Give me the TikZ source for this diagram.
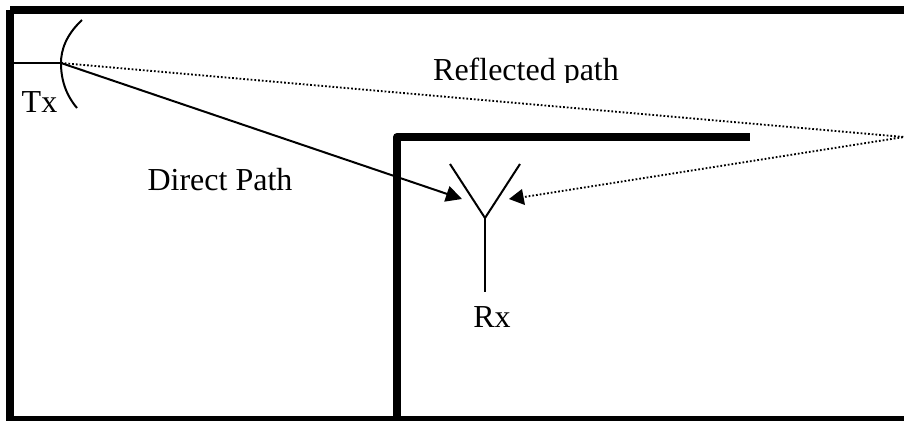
\documentclass[tikz,border=0pt]{standalone}
\usepackage{fontspec}
\setmainfont{Liberation Serif}
\usetikzlibrary{arrows.meta}
\tikzset{
  wall/.style={draw=black, line width=6pt},
  antenna/.style={draw=black, line width=1.5pt},
  direct/.style={draw=black, line width=1.5pt, -{Triangle[length=12pt, width=12pt]}},
  reflected/.style={draw=black, line width=1.4pt, dash pattern=on 1.3pt off 1.5pt},
  caption/.style={font=\fontsize{24}{28}\selectfont, text=black, inner sep=0pt, anchor=base}
}

\begin{document}
\begin{tikzpicture}[x=0.75pt, y=-0.75pt]
  \useasboundingbox (0,0) rectangle (904,421);
  % Outer walls
  \draw[wall] (10,10) -- (904,10);
  \draw[wall] (10,10) -- (10,420) -- (904,420);
  % Inner wall
  \draw[wall, line join=round] (397,420) -- (397,137) -- (750,137);
  % Tx dish
  \coordinate (txfeed) at (61,63);
  \coordinate (txwall) at (13,63);
  \draw[antenna] (txwall) -- (txfeed);
  \draw[antenna] (82,20) .. controls (66,35) and (61,50) .. (txfeed) .. controls (61,80) and (66,95) .. (77,108);
  % Rx antenna
  \coordinate (rxapex) at (485,218);
  \coordinate (rxbase) at (485,292);
  \draw[antenna] (450,164) -- (rxapex) -- (520,164);
  \draw[antenna] (rxapex) -- (rxbase);
  % Paths
  \coordinate (bounce) at (904,137);
  \coordinate (rxleft) at (462,199);
  \coordinate (rxright) at (509,199);
  \coordinate (rxrightbase) at (524,197);
  \draw[direct] (txfeed) -- (rxleft);
  \draw[reflected] (txfeed) -- (bounce) -- (rxrightbase);
  \draw[draw=none, fill=black] (rxright) -- (522,189) -- (525,205) -- cycle;
  % Labels
  \node[caption] (txlabel) at (39.5,112) {Tx};
  \node[caption] (rxlabel) at (492,327) {Rx};
  \node[caption] (directlabel) at (220,190) {Direct Path};
  \begin{scope}
    \clip (420,40) rectangle (640,82);
    \node[caption] (reflectedlabel) at (526,80) {Reflected path};
  \end{scope}
\end{tikzpicture}
\end{document}
